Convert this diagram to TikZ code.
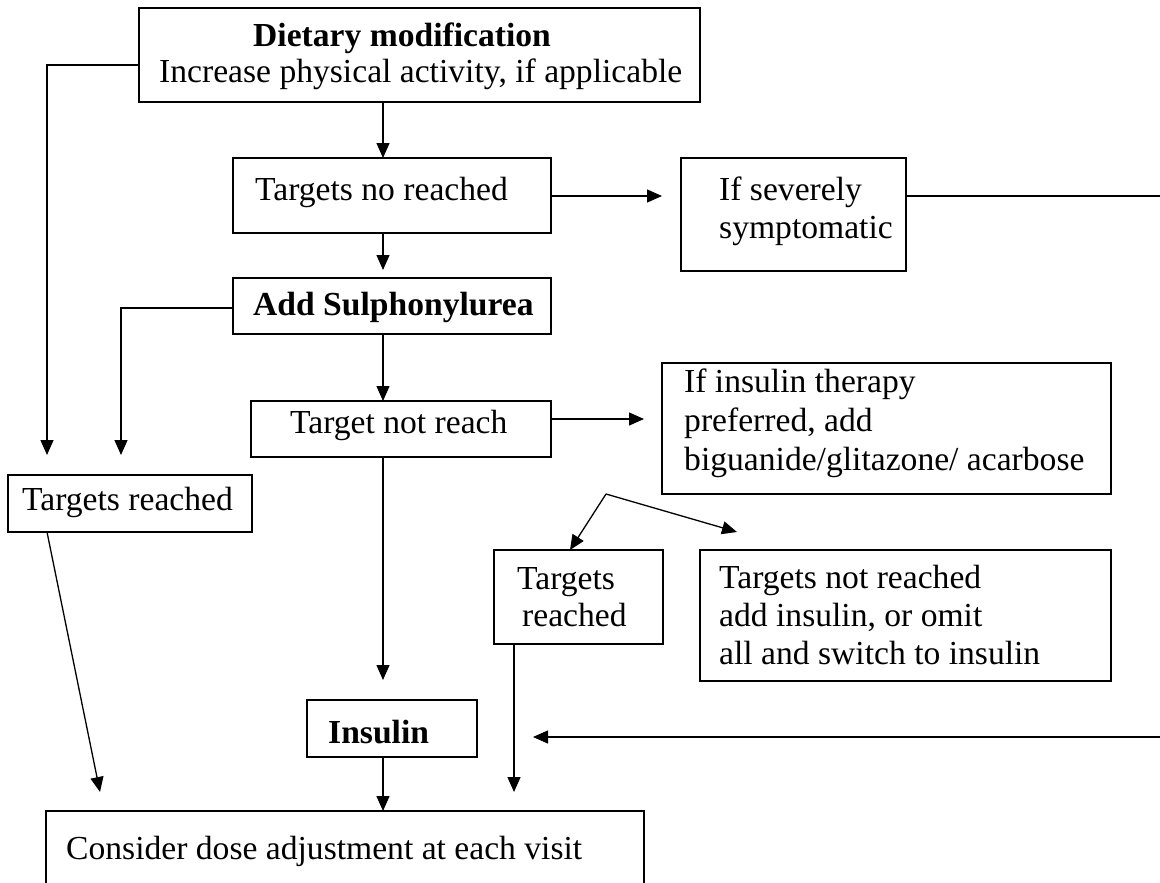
\documentclass[tikz,border=0pt]{standalone}
\usepackage{fontspec}
\setmainfont{Liberation Serif}
\usetikzlibrary{arrows.meta}
\tikzset{
  box/.style={draw, line width=1.8pt, inner sep=0pt, outer sep=0pt, anchor=north west},
  txt/.style={anchor=base west, inner sep=0pt, font=\fontsize{33.6pt}{39pt}\selectfont},
  btxt/.style={txt, font=\fontsize{33.6pt}{39pt}\selectfont\bfseries},
  conn/.style={line width=1.3pt},
  arr/.style={conn, -{Triangle[length=15pt,width=13pt]}}
}
\begin{document}
\begin{tikzpicture}[x=1pt,y=-1pt]
\useasboundingbox (0,0) rectangle (1160,883);
\clip (0,0) rectangle (1160,883);
% boxes
\node[box, minimum width=561pt, minimum height=94pt] (b1) at (139,8) {};
\node[box, minimum width=318pt, minimum height=75pt] (b2) at (233,158) {};
\node[box, minimum width=225pt, minimum height=113pt] (b3) at (681,158) {};
\node[box, minimum width=318pt, minimum height=56pt] (b4) at (233,278) {};
\node[box, minimum width=300pt, minimum height=56pt] (b5) at (251,401) {};
\node[box, minimum width=449pt, minimum height=131pt] (b6) at (662,363) {};
\node[box, minimum width=244pt, minimum height=57pt] (b7) at (8,475) {};
\node[box, minimum width=169pt, minimum height=94pt] (b8) at (494,550) {};
\node[box, minimum width=411pt, minimum height=131pt] (b9) at (700,550) {};
\node[box, minimum width=170pt, minimum height=57pt] (b10) at (307,700) {};
\node[box, minimum width=598pt, minimum height=110pt] (b11) at (46,811) {};
% texts
\node[btxt] (t1a) at (253,47) {Dietary modification};
\node[txt] (t1b) at (159,83) {Increase physical activity, if applicable};
\node[txt] (t2) at (255,200) {Targets no reached};
\node[txt] (t3a) at (719,200) {If severely};
\node[txt] (t3b) at (719,238) {symptomatic};
\node[btxt] (t4) at (253,315) {Add Sulphonylurea};
\node[txt] (t5) at (290,433) {Target not reach};
\node[txt] (t6a) at (684,392) {If insulin therapy};
\node[txt] (t6b) at (684,431) {preferred, add};
\node[txt] (t6c) at (684,470) {biguanide/glitazone/ acarbose};
\node[txt] (t7) at (22,510) {Targets reached};
\node[txt] (t8a) at (517,589) {Targets};
\node[txt] (t8b) at (522,626) {reached};
\node[txt] (t9a) at (719,588) {Targets not reached};
\node[txt] (t9b) at (719,626) {add insulin, or omit};
\node[txt] (t9c) at (719,664) {all and switch to insulin};
\node[btxt] (t10) at (328,743) {Insulin};
\node[txt] (t11) at (66,859) {Consider dose adjustment at each visit};
% free ends
\coordinate (e1) at (47,455);
\coordinate (e2) at (121,455);
\coordinate (sev) at (662,196);
\coordinate (rt) at (1160,196);
\coordinate (ins) at (644,419);
\coordinate (apex) at (606,494);
\coordinate (tnr) at (737,532);
\coordinate (rb) at (1160,737);
\coordinate (rbe) at (533,737);
% connectors
\draw[arr] (b1.west |- 0,65) -| (e1);
\draw[arr] (383,0 |- b1.south) -- (383,0 |- b2.north);
\draw[arr] (b2.east |- sev) -- (sev);
\draw[conn] (b3.east |- rt) -- (rt);
\draw[arr] (383,0 |- b2.south) -- (383,270);
\draw[arr] (b4.west |- 0,308) -| (e2);
\draw[arr] (383,0 |- b4.south) -- (383,0 |- b5.north);
\draw[arr] (b5.east |- ins) -- (ins);
\draw[arr] (383,0 |- b5.south) -- (383,680);
\draw[arr] (47,0 |- b7.south) -- (100,792);
\draw[arr] (apex) -- (570,0 |- b8.north);
\draw[arr] (apex) -- (tnr);
\draw[arr] (514,0 |- b8.south) -- (514,792);
\draw[arr] (rb) -- (rbe);
\draw[arr] (383,0 |- b10.south) -- (383,0 |- b11.north);
\end{tikzpicture}
\end{document}
